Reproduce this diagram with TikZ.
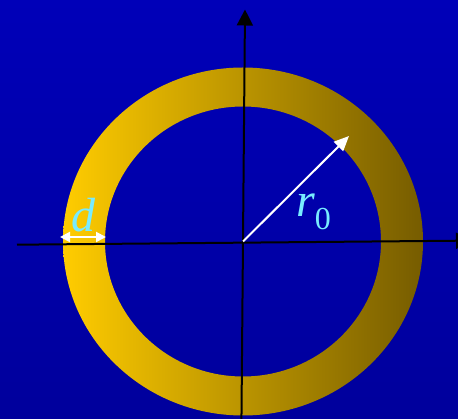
\documentclass[tikz,border=0pt]{standalone}
\usepackage{fontspec}
\setmainfont{Liberation Serif}
\usepackage{xcolor}
\usetikzlibrary{arrows.meta}

\definecolor{bgtop}{RGB}{0,0,184}
\definecolor{bgbot}{RGB}{0,0,156}
\definecolor{goldl}{RGB}{255,204,0}
\definecolor{goldr}{RGB}{118,92,0}
\definecolor{lblue}{RGB}{120,235,255}

\begin{document}
\begin{tikzpicture}[x=1pt,y=-1pt,
        axis/.style={line width=2pt, -{Triangle[length=16pt,width=16pt]}},
        dim/.style={white, line width=2pt},
        lbl/.style={text=lblue, inner sep=0pt, font=\fontsize{48}{50}\selectfont\itshape}]
        \useasboundingbox (0,0) rectangle (458,419);
        \clip (0,0) rectangle (458,419);

        % --- BACKGROUND ---
        \shade[top color=bgtop, bottom color=bgbot] (0,0) rectangle (458,419);

        % --- RING ---
        \coordinate (O) at (243,241.5);
        \shade[even odd rule, left color=goldl, right color=goldr]
            (O) ellipse [x radius=180, y radius=174]
            (O) ellipse [x radius=138, y radius=135];

        % --- AXES ---
        \coordinate (xl) at (17,244.7);
        \coordinate (xr) at (472,240.6);
        \coordinate (yb) at (241.4,425);
        \coordinate (yt) at (245,9.5);
        \draw[axis] (xl) -- (xr);
        \draw[axis] (yb) -- (yt);

        % --- RADIUS ---
        \coordinate (R) at (349,136);
        \draw[dim, -{Triangle[length=15pt,width=13pt]}] (O) -- (R);
        \node[lbl, anchor=base west] (r0) at (296,217)
            {r\raisebox{-13pt}{\upshape\fontsize{32}{34}\selectfont 0}};

        % --- THICKNESS ---
        \coordinate (dl) at (60,237);
        \coordinate (dr) at (106,237);
        \draw[dim, {Triangle[length=10pt,width=10pt]}-{Triangle[length=10pt,width=10pt]}] (dl) -- (dr);
        \node[lbl, anchor=base west] (d) at (71,232) {d};
    \end{tikzpicture}
\end{document}
